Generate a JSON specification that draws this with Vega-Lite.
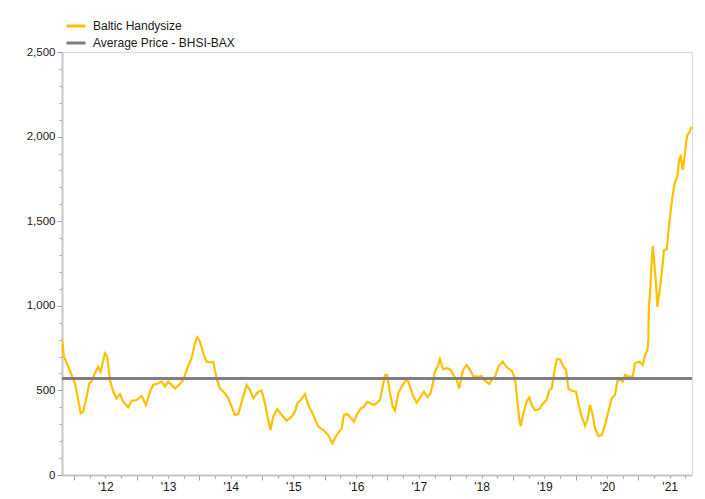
{
  "$schema": "https://vega.github.io/schema/vega-lite/v6.json",
  "width": 630,
  "height": 423,
  "autosize": {"type": "none"},
  "padding": {"left": 62, "top": 52, "right": 13, "bottom": 24},
  "background": "white",
  "config": {
    "view": {"stroke": "#dadada", "strokeWidth": 1},
    "font": "Liberation Sans"
  },
  "datasets": {
    "bhsi": [
      {"t": 2011.81, "v": 805}, {"t": 2011.841, "v": 699}, {"t": 2011.909, "v": 640}, {"t": 2011.963, "v": 591},
      {"t": 2012.016, "v": 542}, {"t": 2012.069, "v": 443}, {"t": 2012.107, "v": 365}, {"t": 2012.148, "v": 374},
      {"t": 2012.203, "v": 463}, {"t": 2012.244, "v": 542}, {"t": 2012.282, "v": 552}, {"t": 2012.335, "v": 601},
      {"t": 2012.388, "v": 640}, {"t": 2012.426, "v": 611}, {"t": 2012.494, "v": 719}, {"t": 2012.531, "v": 699},
      {"t": 2012.574, "v": 561}, {"t": 2012.627, "v": 492}, {"t": 2012.681, "v": 453}, {"t": 2012.734, "v": 479},
      {"t": 2012.786, "v": 433}, {"t": 2012.866, "v": 400}, {"t": 2012.92, "v": 439}, {"t": 2013.0, "v": 443},
      {"t": 2013.08, "v": 467}, {"t": 2013.148, "v": 414}, {"t": 2013.212, "v": 492}, {"t": 2013.265, "v": 532},
      {"t": 2013.344, "v": 542}, {"t": 2013.399, "v": 552}, {"t": 2013.451, "v": 522}, {"t": 2013.504, "v": 552},
      {"t": 2013.611, "v": 512}, {"t": 2013.691, "v": 538}, {"t": 2013.754, "v": 571}, {"t": 2013.797, "v": 621},
      {"t": 2013.877, "v": 690}, {"t": 2013.93, "v": 778}, {"t": 2013.967, "v": 814}, {"t": 2014.01, "v": 788},
      {"t": 2014.062, "v": 719}, {"t": 2014.116, "v": 670}, {"t": 2014.18, "v": 664}, {"t": 2014.222, "v": 670},
      {"t": 2014.276, "v": 571}, {"t": 2014.329, "v": 512}, {"t": 2014.408, "v": 483}, {"t": 2014.461, "v": 453},
      {"t": 2014.568, "v": 355}, {"t": 2014.62, "v": 360}, {"t": 2014.7, "v": 463}, {"t": 2014.754, "v": 532},
      {"t": 2014.807, "v": 502}, {"t": 2014.86, "v": 453}, {"t": 2014.939, "v": 492}, {"t": 2014.994, "v": 498},
      {"t": 2015.046, "v": 424}, {"t": 2015.099, "v": 325}, {"t": 2015.134, "v": 266}, {"t": 2015.179, "v": 345},
      {"t": 2015.242, "v": 388}, {"t": 2015.313, "v": 355}, {"t": 2015.392, "v": 321}, {"t": 2015.472, "v": 345},
      {"t": 2015.525, "v": 374}, {"t": 2015.561, "v": 424}, {"t": 2015.616, "v": 443}, {"t": 2015.684, "v": 479},
      {"t": 2015.737, "v": 414}, {"t": 2015.817, "v": 355}, {"t": 2015.896, "v": 286}, {"t": 2015.976, "v": 266},
      {"t": 2016.056, "v": 236}, {"t": 2016.12, "v": 187}, {"t": 2016.19, "v": 236}, {"t": 2016.27, "v": 276},
      {"t": 2016.306, "v": 355}, {"t": 2016.359, "v": 360}, {"t": 2016.402, "v": 345}, {"t": 2016.466, "v": 315},
      {"t": 2016.509, "v": 355}, {"t": 2016.573, "v": 394}, {"t": 2016.614, "v": 400}, {"t": 2016.678, "v": 433},
      {"t": 2016.721, "v": 424}, {"t": 2016.785, "v": 414}, {"t": 2016.837, "v": 427}, {"t": 2016.88, "v": 443},
      {"t": 2016.923, "v": 522}, {"t": 2016.96, "v": 591}, {"t": 2016.997, "v": 591}, {"t": 2017.04, "v": 483},
      {"t": 2017.083, "v": 404}, {"t": 2017.12, "v": 380}, {"t": 2017.172, "v": 483}, {"t": 2017.226, "v": 522},
      {"t": 2017.279, "v": 552}, {"t": 2017.316, "v": 566}, {"t": 2017.359, "v": 522}, {"t": 2017.411, "v": 463},
      {"t": 2017.466, "v": 427}, {"t": 2017.53, "v": 463}, {"t": 2017.582, "v": 492}, {"t": 2017.635, "v": 459},
      {"t": 2017.689, "v": 486}, {"t": 2017.73, "v": 552}, {"t": 2017.758, "v": 611}, {"t": 2017.81, "v": 650},
      {"t": 2017.837, "v": 684}, {"t": 2017.89, "v": 625}, {"t": 2017.954, "v": 631}, {"t": 2018.008, "v": 621},
      {"t": 2018.061, "v": 585}, {"t": 2018.104, "v": 561}, {"t": 2018.145, "v": 512}, {"t": 2018.183, "v": 591},
      {"t": 2018.22, "v": 631}, {"t": 2018.263, "v": 650}, {"t": 2018.316, "v": 621}, {"t": 2018.368, "v": 585},
      {"t": 2018.448, "v": 581}, {"t": 2018.502, "v": 585}, {"t": 2018.555, "v": 557}, {"t": 2018.624, "v": 538},
      {"t": 2018.662, "v": 561}, {"t": 2018.715, "v": 581}, {"t": 2018.767, "v": 640}, {"t": 2018.837, "v": 670},
      {"t": 2018.901, "v": 637}, {"t": 2018.981, "v": 617}, {"t": 2019.033, "v": 571}, {"t": 2019.07, "v": 443},
      {"t": 2019.102, "v": 325}, {"t": 2019.124, "v": 290}, {"t": 2019.166, "v": 365}, {"t": 2019.22, "v": 433},
      {"t": 2019.262, "v": 459}, {"t": 2019.3, "v": 414}, {"t": 2019.352, "v": 384}, {"t": 2019.421, "v": 388},
      {"t": 2019.485, "v": 424}, {"t": 2019.539, "v": 447}, {"t": 2019.581, "v": 502}, {"t": 2019.619, "v": 512},
      {"t": 2019.656, "v": 601}, {"t": 2019.699, "v": 684}, {"t": 2019.751, "v": 684}, {"t": 2019.804, "v": 640},
      {"t": 2019.847, "v": 621}, {"t": 2019.884, "v": 512}, {"t": 2019.938, "v": 498}, {"t": 2020.006, "v": 492},
      {"t": 2020.043, "v": 424}, {"t": 2020.097, "v": 345}, {"t": 2020.15, "v": 290}, {"t": 2020.187, "v": 325},
      {"t": 2020.23, "v": 414}, {"t": 2020.273, "v": 355}, {"t": 2020.309, "v": 276}, {"t": 2020.362, "v": 230},
      {"t": 2020.416, "v": 236}, {"t": 2020.469, "v": 296}, {"t": 2020.522, "v": 374}, {"t": 2020.576, "v": 453},
      {"t": 2020.628, "v": 473}, {"t": 2020.665, "v": 552}, {"t": 2020.708, "v": 571}, {"t": 2020.751, "v": 552},
      {"t": 2020.788, "v": 591}, {"t": 2020.856, "v": 581}, {"t": 2020.911, "v": 581}, {"t": 2020.947, "v": 660},
      {"t": 2021.016, "v": 670}, {"t": 2021.07, "v": 650}, {"t": 2021.107, "v": 709}, {"t": 2021.144, "v": 739},
      {"t": 2021.16, "v": 798}, {"t": 2021.168, "v": 995}, {"t": 2021.187, "v": 1074}, {"t": 2021.214, "v": 1271},
      {"t": 2021.23, "v": 1353}, {"t": 2021.25, "v": 1271}, {"t": 2021.282, "v": 1133}, {"t": 2021.303, "v": 995},
      {"t": 2021.335, "v": 1074}, {"t": 2021.373, "v": 1192}, {"t": 2021.41, "v": 1330}, {"t": 2021.453, "v": 1334},
      {"t": 2021.478, "v": 1428}, {"t": 2021.517, "v": 1566}, {"t": 2021.549, "v": 1655}, {"t": 2021.585, "v": 1733},
      {"t": 2021.622, "v": 1763}, {"t": 2021.654, "v": 1872}, {"t": 2021.676, "v": 1885}, {"t": 2021.708, "v": 1803},
      {"t": 2021.729, "v": 1852}, {"t": 2021.761, "v": 1960}, {"t": 2021.781, "v": 2009}, {"t": 2021.813, "v": 2023},
      {"t": 2021.836, "v": 2049}, {"t": 2021.852, "v": 2058}
    ],
    "avg": [{"v": 570}]
  },
  "encoding": {
    "y": {
      "field": "v",
      "type": "quantitative",
      "scale": {"domain": [0, 2500], "nice": false},
      "axis": {
        "title": null,
        "grid": false,
        "values": [0, 100, 200, 300, 400, 500, 600, 700, 800, 900, 1000, 1100, 1200, 1300, 1400, 1500, 1600, 1700, 1800, 1900, 2000, 2100, 2200, 2300, 2400, 2500],
        "labelExpr": "datum.value % 500 == 0 ? format(datum.value, ',') : ''",
        "tickSize": {"condition": {"test": "datum.value % 500 == 0", "value": 5}, "value": 3},
        "tickColor": "#a0a0a0",
        "domainColor": "#c4c4c4",
        "domainWidth": 2,
        "labelFont": "Liberation Sans",
        "labelFontSize": 11.5,
        "labelColor": "#1a1a1a",
        "labelPadding": 2,
        "labelOverlap": false,
        "labelFlush": false,
        "labelBound": false
      }
    }
  },
  "layer": [
    {
      "data": {"name": "bhsi"},
      "mark": {"type": "line", "strokeWidth": 2.2, "clip": true},
      "encoding": {
        "x": {
          "field": "t",
          "type": "quantitative",
          "scale": {"domain": [2011.81, 2021.856], "nice": false, "zero": false},
          "axis": {
            "title": null,
            "grid": false,
            "values": [2012, 2012.25, 2012.5, 2012.75, 2013, 2013.25, 2013.5, 2013.75, 2014, 2014.25, 2014.5, 2014.75, 2015, 2015.25, 2015.5, 2015.75, 2016, 2016.25, 2016.5, 2016.75, 2017, 2017.25, 2017.5, 2017.75, 2018, 2018.25, 2018.5, 2018.75, 2019, 2019.25, 2019.5, 2019.75, 2020, 2020.25, 2020.5, 2020.75, 2021, 2021.25, 2021.5, 2021.75],
            "labelExpr": "(datum.value * 4) % 4 == 2 ? \"'\" + format(floor(datum.value) % 100, '02d') : ''",
            "tickSize": {"condition": {"test": "datum.value % 1 == 0", "value": 5}, "value": 3},
            "tickColor": "#a0a0a0",
            "domainColor": "#c4c4c4",
            "domainWidth": 2,
            "labelFont": "Liberation Sans",
            "labelFontSize": 12,
            "labelColor": "#1a1a1a",
            "labelPadding": 3,
            "labelOverlap": false,
            "labelFlush": false,
            "labelBound": false
          }
        },
        "color": {
          "datum": "Baltic Handysize",
          "type": "nominal",
          "scale": {"domain": ["Baltic Handysize", "Average Price - BHSI-BAX"], "range": ["#FFC000", "#7F7F7F"]},
          "legend": {
            "title": null,
            "orient": "none",
            "legendX": 3,
            "legendY": -37,
            "direction": "vertical",
            "symbolType": "stroke",
            "symbolSize": 361,
            "symbolStrokeWidth": 3,
            "labelFont": "Liberation Sans",
            "labelFontSize": 12,
            "labelColor": "#1a1a1a",
            "labelOffset": 6,
            "rowPadding": 0,
            "padding": 0
          }
        }
      }
    },
    {
      "data": {"name": "avg"},
      "mark": {"type": "rule", "strokeWidth": 3},
      "encoding": {
        "color": {"datum": "Average Price - BHSI-BAX", "type": "nominal"}
      }
    }
  ]
}
